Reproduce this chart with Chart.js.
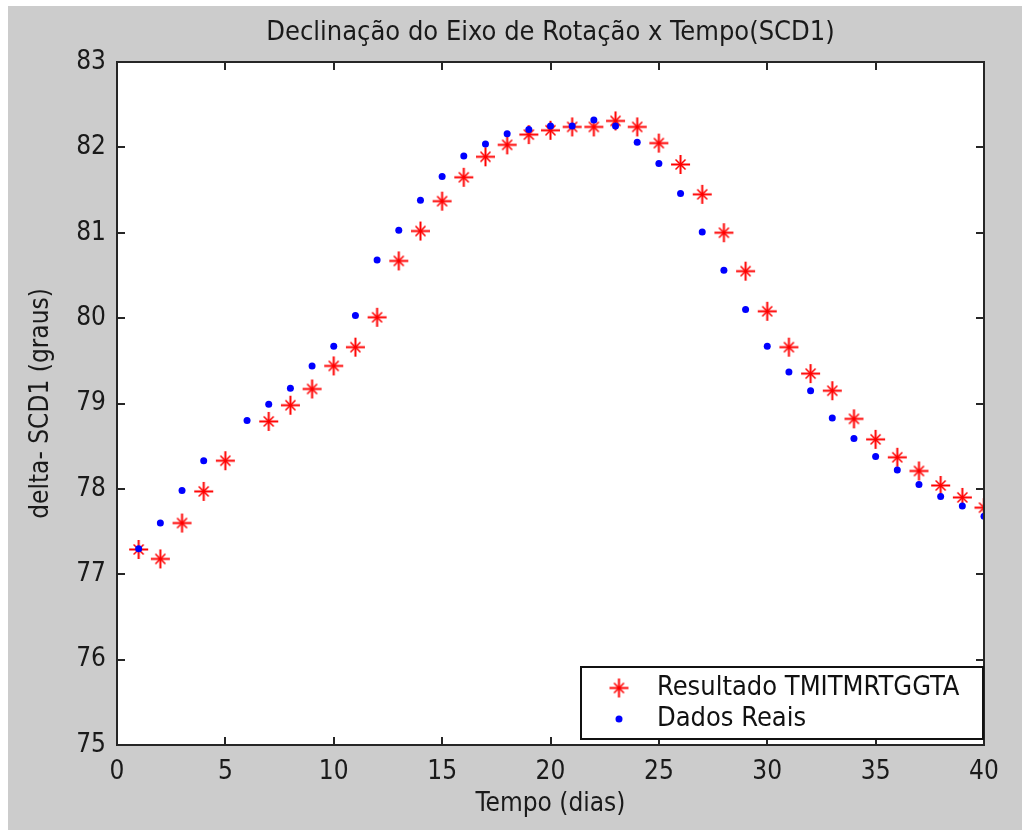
<!DOCTYPE html>
<html>
<head>
<meta charset="utf-8" />
<title>Declinação do Eixo de Rotação x Tempo(SCD1)</title>
<style>
  html, body { margin: 0; padding: 0; background: #ffffff; }
  #figura { position: absolute; left: 8px; top: 6px; width: 1014px; height: 824px; background: #cccccc; }
  #grafico { display: block; }
</style>
<script src="https://cdn.jsdelivr.net/npm/chart.js@4.4.1/dist/chart.umd.min.js"></script>
</head>
<body>
<div id="figura">
  <canvas id="grafico" width="1014" height="824"></canvas>
</div>
<script>
// dias 1..40
const dias = [1, 2, 3, 4, 5, 6, 7, 8, 9, 10, 11, 12, 13, 14, 15, 16, 17, 18, 19, 20,
              21, 22, 23, 24, 25, 26, 27, 28, 29, 30, 31, 32, 33, 34, 35, 36, 37, 38, 39, 40];

// Resultado TMITMRTGGTA (asteriscos vermelhos)
const resultado = [77.29, 77.18, 77.60, 77.97, 78.33, null, 78.79, 78.98, 79.17, 79.44,
                   79.66, 80.01, 80.67, 81.02, 81.37, 81.65, 81.89, 82.03, 82.15, 82.20,
                   82.24, 82.24, 82.31, 82.24, 82.05, 81.80, 81.45, 81.00, 80.55, 80.08,
                   79.66, 79.35, 79.15, 78.82, 78.58, 78.37, 78.21, 78.04, 77.90, 77.78];

// Dados Reais (pontos azuis)
const dadosReais = [77.30, 77.60, 77.98, 78.33, null, 78.80, 78.99, 79.18, 79.44, 79.67,
                    80.03, 80.68, 81.03, 81.38, 81.66, 81.90, 82.04, 82.16, 82.21, 82.25,
                    82.25, 82.32, 82.25, 82.06, 81.81, 81.46, 81.01, 80.56, 80.10, 79.67,
                    79.37, 79.15, 78.83, 78.59, 78.38, 78.22, 78.05, 77.91, 77.80, 77.68];

const xTicks = [0, 5, 10, 15, 20, 25, 30, 35, 40];
const yTicks = [75, 76, 77, 78, 79, 80, 81, 82, 83];

const nomes = ['Resultado TMITMRTGGTA', 'Dados Reais'];
const titulo = 'Declinação do Eixo de Rotação x Tempo(SCD1)';
const tituloX = 'Tempo (dias)';
const tituloY = 'delta- SCD1 (graus)';

const fonte = '"DejaVu Sans Condensed", "Liberation Sans Narrow", Arial, sans-serif';

function pontos(valores) {
  const out = [];
  for (let i = 0; i < dias.length; i++) {
    if (valores[i] !== null) out.push({ x: dias[i], y: valores[i] });
  }
  return out;
}

// asterisco estilo MATLAB
function asterisco(cor) {
  const c = document.createElement('canvas');
  c.width = 21; c.height = 21;
  const g = c.getContext('2d');
  g.strokeStyle = cor;
  g.lineWidth = 2;
  g.beginPath();
  g.moveTo(1, 10.5); g.lineTo(20, 10.5);
  g.moveTo(10.5, 1); g.lineTo(10.5, 20);
  g.stroke();
  g.lineWidth = 1.5;
  g.beginPath();
  g.moveTo(5.5, 5.5); g.lineTo(15.5, 15.5);
  g.moveTo(15.5, 5.5); g.lineTo(5.5, 15.5);
  g.stroke();
  return c;
}
const estrela = asterisco('#ff0000');

// caixa do eixo com marcas internas nos quatro lados
const caixa = {
  id: 'caixa',
  afterDatasetsDraw(chart) {
    const { ctx, chartArea: a, scales } = chart;
    ctx.save();
    ctx.strokeStyle = '#262626';
    ctx.lineWidth = 2;
    ctx.beginPath();
    scales.x.ticks.forEach(t => {
      const px = Math.round(scales.x.getPixelForValue(t.value));
      ctx.moveTo(px, a.bottom); ctx.lineTo(px, a.bottom - 8);
      ctx.moveTo(px, a.top); ctx.lineTo(px, a.top + 8);
    });
    scales.y.ticks.forEach(t => {
      const py = Math.round(scales.y.getPixelForValue(t.value));
      ctx.moveTo(a.left, py); ctx.lineTo(a.left + 8, py);
      ctx.moveTo(a.right, py); ctx.lineTo(a.right - 8, py);
    });
    ctx.stroke();
    ctx.strokeRect(a.left, a.top, a.right - a.left, a.bottom - a.top);
    ctx.restore();
  }
};

// legenda dentro do eixo, canto inferior direito
const legenda = {
  id: 'legenda',
  afterDraw(chart) {
    const { ctx, chartArea: a } = chart;
    const w = 402, h = 72;
    const x0 = a.right - w - 1, y0 = a.bottom - h - 6;
    ctx.save();
    ctx.fillStyle = '#ffffff';
    ctx.fillRect(x0, y0, w, h);
    ctx.strokeStyle = '#111111';
    ctx.lineWidth = 2;
    ctx.strokeRect(x0, y0, w, h);
    ctx.font = '27px ' + fonte;
    ctx.fillStyle = '#111111';
    ctx.textBaseline = 'middle';
    ctx.textAlign = 'left';
    const l1 = y0 + 21, l2 = y0 + 52;
    ctx.drawImage(estrela, x0 + 38 - 10.5, l1 - 10.5);
    ctx.fillText(nomes[0], x0 + 76, l1);
    ctx.fillStyle = '#0000ff';
    ctx.beginPath();
    ctx.arc(x0 + 38, l2, 3.5, 0, Math.PI * 2);
    ctx.fill();
    ctx.fillStyle = '#111111';
    ctx.fillText(nomes[1], x0 + 76, l2);
    ctx.restore();
  }
};

const fundoBranco = {
  id: 'fundoBranco',
  beforeDatasetsDraw(chart) {
    const { ctx, chartArea: a } = chart;
    ctx.save();
    ctx.fillStyle = '#ffffff';
    ctx.fillRect(a.left, a.top, a.right - a.left, a.bottom - a.top);
    ctx.restore();
  }
};

new Chart(document.getElementById('grafico'), {
  type: 'scatter',
  data: {
    datasets: [{
      label: nomes[0],
      data: pontos(resultado),
      pointStyle: estrela,
      order: 2
    }, {
      label: nomes[1],
      data: pontos(dadosReais),
      pointStyle: 'circle',
      pointRadius: 3.5,
      pointBorderWidth: 0,
      backgroundColor: '#0000ff',
      borderColor: '#0000ff',
      order: 1
    }]
  },
  options: {
    responsive: false,
    animation: false,
    devicePixelRatio: 1,
    layout: { padding: { left: 0, right: 38, top: 0, bottom: 0 } },
    plugins: {
      legend: { display: false },
      tooltip: { enabled: false },
      title: {
        display: true,
        fullSize: false,
        text: titulo,
        color: '#1a1a1a',
        font: { family: fonte, size: 27, weight: 'normal', lineHeight: 1.2 },
        padding: { top: 11, bottom: 12.6 }
      }
    },
    scales: {
      x: {
        type: 'linear',
        min: 0, max: 40,
        afterBuildTicks(s) { s.ticks = xTicks.map(v => ({ value: v })); },
        afterFit(s) { s.height = 85; },
        ticks: { color: '#1a1a1a', padding: 4, font: { family: fonte, size: 26 } },
        grid: { display: false },
        border: { display: false },
        title: {
          display: true, text: tituloX, color: '#1a1a1a',
          font: { family: fonte, size: 26, lineHeight: 1.2 },
          padding: { top: 0, bottom: 10 }
        }
      },
      y: {
        type: 'linear',
        min: 75, max: 83,
        afterBuildTicks(s) { s.ticks = yTicks.map(v => ({ value: v })); },
        afterFit(s) { s.width = 109; },
        ticks: { color: '#1a1a1a', padding: 3, font: { family: fonte, size: 26 } },
        grid: { display: false },
        border: { display: false },
        title: {
          display: true, text: tituloY, color: '#1a1a1a',
          font: { family: fonte, size: 26, lineHeight: 1.2 },
          padding: { top: 18, bottom: 0 }
        }
      }
    }
  },
  plugins: [fundoBranco, caixa, legenda]
});
</script>
</body>
</html>
